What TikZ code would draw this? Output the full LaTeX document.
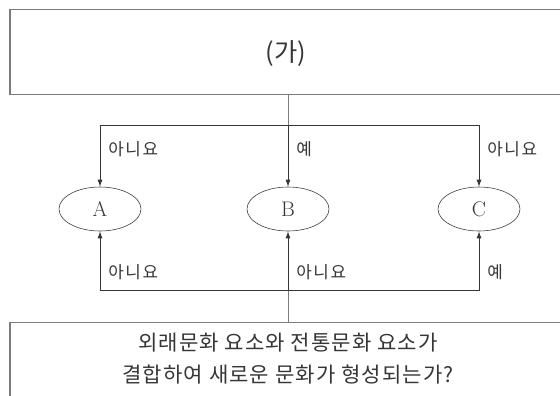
\documentclass[tikz,border=0pt]{standalone}
\usepackage{fontspec}
\usetikzlibrary{arrows.meta,shapes.geometric}
\newfontfamily\kr{Noto Sans CJK KR}
\newfontfamily\krsp[LetterSpace=10]{Noto Sans CJK KR}
\newfontfamily\krtxt[LetterSpace=5]{Noto Sans CJK KR}
\definecolor{linegray}{HTML}{7C7C7C}
\definecolor{textgray}{HTML}{363636}
\tikzset{
  boxnode/.style={draw=linegray, thick, rectangle, inner sep=0pt},
  oval/.style={draw=textgray, ellipse, minimum width=20.5mm, minimum height=11mm,
    inner sep=0pt, text=textgray, font=\fontsize{15}{17}\selectfont},
  conn/.style={draw=linegray, semithick},
  arr/.style={conn, -{Latex[length=5pt,width=3.6pt]}, color=textgray},
  ans/.style={right, text=textgray, font=\krsp\fontsize{12}{14}\selectfont, inner sep=0pt},
}
\begin{document}
\begin{tikzpicture}[x=0.25mm, y=-0.25mm]
    \useasboundingbox[fill=white] (0, 0) rectangle (560, 395) ;
    \node[boxnode, minimum width=142.5mm, minimum height=21.25mm] (top) at (295, 52) {} ;
    \node[text=textgray, font=\kr\fontsize{18}{20}\selectfont] (ga) at (286, 54) {(가)} ;
    \node[boxnode, anchor=north, minimum width=142.5mm, minimum height=25mm] (bot) at (295, 322) {} ;
    \node[align=center, text=textgray, font=\krtxt\fontsize{15}{22.7}\selectfont] (q) at (288, 359)
      {외래문화 요소와 전통문화 요소가\\결합하여 새로운 문화가 형성되는가?} ;

    \node[oval] (A) at (100, 209) {A} ;
    \node[oval] (B) at (288, 209) {B} ;
    \node[oval] (C) at (479, 209) {C} ;

    \coordinate (up) at (288, 125) ;
    \coordinate (down) at (288, 290) ;

    % from the top box
    \draw[conn] (top.south -| B) -- (up) ;
    \draw[arr] (up) -- (B.north) ;
    \draw[arr] (up) -| (A.north) ;
    \draw[arr] (up) -| (C.north) ;
    % from the question
    \draw[conn] (bot.north -| B) -- (down) ;
    \draw[arr] (down) -- (B.south) ;
    \draw[arr] (down) -| (A.south) ;
    \draw[arr] (down) -| (C.south) ;

    \node[ans] (a1) at (108, 149) {아니요} ;
    \node[ans] (b1) at (296, 149) {예} ;
    \node[ans] (c1) at (487, 149) {아니요} ;
    \node[ans] (a2) at (108, 272) {아니요} ;
    \node[ans] (b2) at (296, 272) {아니요} ;
    \node[ans] (c2) at (487, 272) {예} ;
\end{tikzpicture}
\end{document}
